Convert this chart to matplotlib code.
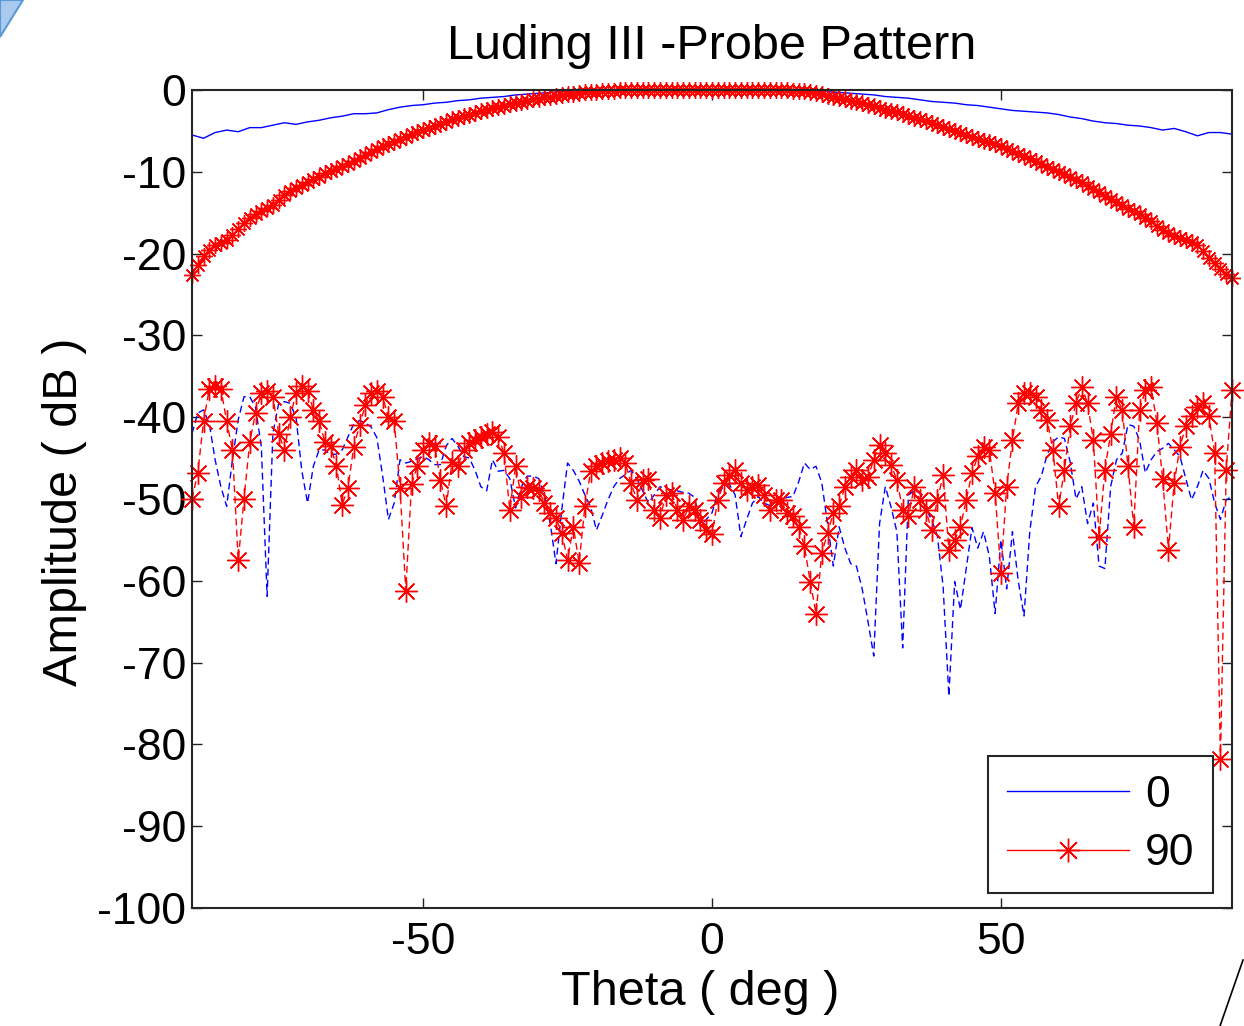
import numpy as np
import matplotlib
matplotlib.use('Agg')
import matplotlib.pyplot as plt
from matplotlib.lines import Line2D
from matplotlib.patches import Polygon

plt.rcParams['font.family'] = ['Liberation Sans', 'DejaVu Sans']
plt.rcParams['axes.unicode_minus'] = False

# angles (deg)
theta_fine = np.arange(-90, 91, 1)
theta_coarse = np.arange(-90, 91, 2)

# co-polar, phi = 0 cut (2 deg step)
copol_0 = [
    -5.5, -5.9, -5.2, -4.9, -5.1, -4.6, -4.6, -4.3, -4.0, -4.2,
    -3.9, -3.7, -3.4, -3.2, -2.9, -2.9, -2.8, -2.4, -2.1, -1.9,
    -1.8, -1.6, -1.5, -1.3, -1.2, -1.0, -0.9, -0.8, -0.6, -0.5,
    -0.4, -0.3, -0.2, -0.1, 0.0, 0.0, 0.0, 0.0, 0.0, 0.0,
    0.0, 0.0, 0.0, 0.0, 0.0, 0.0, 0.0, 0.0, 0.0, 0.0,
    0.0, 0.0, 0.0, 0.0, -0.1, -0.2, -0.3, -0.4, -0.5, -0.6,
    -0.8, -0.9, -1.0, -1.2, -1.4, -1.5, -1.6, -1.8, -1.9, -2.1,
    -2.3, -2.5, -2.6, -2.7, -2.8, -3.0, -3.3, -3.5, -3.8, -4.0,
    -4.1, -4.3, -4.4, -4.6, -4.9, -4.7, -5.1, -5.6, -5.2, -5.2,
    -5.4]

# co-polar, phi = 90 cut (1 deg step)
copol_90 = [
    -22.6, -21.4, -20.3, -19.6, -19.0, -18.7, -18.3, -17.7, -17.0, -16.2, -15.6,
    -15.2, -14.8, -14.4, -14.0, -13.4, -12.8, -12.4, -12.0, -11.6, -11.3,
    -10.9, -10.6, -10.2, -9.9, -9.6, -9.3, -9.0, -8.7, -8.3, -7.9,
    -7.6, -7.2, -6.9, -6.6, -6.3, -6.0, -5.7, -5.4, -5.1, -4.9,
    -4.6, -4.4, -4.1, -3.9, -3.6, -3.4, -3.2, -3.0, -2.8, -2.6,
    -2.4, -2.2, -2.05, -1.9, -1.75, -1.6, -1.45, -1.3, -1.15, -1.05,
    -0.9, -0.8, -0.7, -0.6, -0.5, -0.45, -0.4, -0.3, -0.25, -0.2,
    -0.15, -0.1, -0.08, -0.05, -0.03, -0.02, -0.01, 0.0, 0.0, 0.0,
    0.0, 0.0, 0.0, 0.0, 0.0, 0.0, 0.0, 0.0, 0.0, 0.0,
    0.0, 0.0, 0.0, 0.0, 0.0, 0.0, 0.0, 0.0, 0.0, 0.0,
    -0.02, -0.03, -0.05, -0.07, -0.1, -0.15, -0.25, -0.4, -0.55, -0.7,
    -0.85, -1.0, -1.15, -1.3, -1.45, -1.6, -1.8, -2.0, -2.2, -2.4,
    -2.55, -2.7, -2.95, -3.2, -3.4, -3.6, -3.8, -4.0, -4.25, -4.5,
    -4.75, -5.0, -5.25, -5.5, -5.75, -6.0, -6.2, -6.4, -6.65, -6.9,
    -7.2, -7.5, -7.8, -8.1, -8.4, -8.7, -9.05, -9.4, -9.7, -10.0,
    -10.3, -10.6, -10.95, -11.3, -11.7, -12.1, -12.5, -12.9, -13.3, -13.7,
    -14.1, -14.5, -14.85, -15.2, -15.6, -16.0, -16.6, -17.1, -17.5, -17.9,
    -18.1, -18.3, -18.6, -18.9, -19.7, -20.5, -21.2, -21.9, -22.5, -23.0]

# cross-polar, phi = 0 cut (1 deg step)
xpol_0 = [
    -42.0, -39.5, -39.1, -40.8, -45.2, -48.5, -50.9, -45.2, -40.3, -37.5,
    -37.5, -38.8, -43.6, -61.9, -42.0, -38.3, -38.1, -38.3, -40.0, -46.5,
    -50.5, -46.0, -44.0, -44.0, -44.6, -44.5, -44.0, -42.4, -40.8, -40.4,
    -40.7, -41.2, -42.5, -47.2, -52.5, -50.5, -45.2, -45.6, -45.4, -45.1,
    -44.8, -45.2, -45.8, -45.8, -43.5, -42.6, -43.5, -44.8, -45.0, -46.5,
    -48.5, -49.0, -45.2, -46.6, -46.5, -47.5, -51.1, -48.5, -47.2, -47.2,
    -47.5, -49.5, -53.0, -57.9, -51.3, -45.6, -46.5, -47.8, -49.5, -51.0,
    -53.8, -52.0, -50.1, -48.5, -47.5, -47.0, -46.5, -47.5, -49.0, -50.5,
    -49.5, -48.5, -48.7, -48.9, -49.0, -49.2, -49.3, -49.8, -53.4, -52.5,
    -51.7, -49.3, -48.5, -48.2, -49.5, -54.6, -52.5, -50.5, -49.7, -50.5,
    -50.8, -50.4, -50.0, -49.8, -49.7, -47.9, -45.6, -46.4, -46.0, -48.0,
    -53.0, -58.2, -53.4, -56.0, -57.9, -58.2, -61.0, -65.0, -69.2, -53.0,
    -48.5, -51.0, -54.0, -68.2, -49.5, -49.0, -49.3, -51.2, -52.5, -54.5,
    -60.7, -74.1, -60.1, -63.5, -58.5, -53.5, -56.0, -54.0, -57.0, -64.0,
    -55.0, -61.0, -54.0, -60.0, -64.3, -54.0, -48.5, -47.2, -44.6, -43.0,
    -42.4, -42.6, -45.5, -50.0, -48.5, -53.0, -50.5, -58.2, -58.5, -48.5,
    -45.2, -44.4, -40.9, -41.1, -42.8, -46.8, -45.2, -44.2, -43.8, -43.2,
    -44.0, -44.8, -47.5, -50.1, -48.5, -46.5, -47.5, -50.5, -52.5, -50.1,
    -49.7]

# cross-polar, phi = 90 cut (1 deg step)
xpol_90 = [
    -50.0, -46.8, -40.5, -36.5, -36.2, -36.5, -40.5, -44.0, -57.5, -50.0,
    -43.0, -39.5, -37.0, -36.8, -37.5, -42.0, -44.0, -40.0, -37.0, -36.2,
    -36.8, -39.1, -40.5, -43.0, -43.5, -46.0, -50.7, -48.6, -43.6, -41.0,
    -38.5, -37.0, -36.8, -37.5, -40.0, -40.5, -48.6, -61.2, -48.2, -46.0,
    -44.0, -43.2, -43.5, -47.7, -50.9, -45.5, -46.0, -44.0, -43.2, -42.8,
    -42.4, -42.0, -41.8, -42.4, -44.4, -51.3, -46.0, -49.7, -48.5, -48.7,
    -48.9, -50.5, -51.7, -52.3, -54.2, -57.4, -53.4, -57.8, -50.9, -46.6,
    -46.0, -45.6, -45.4, -45.2, -45.0, -45.6, -48.1, -50.1, -47.7, -47.5,
    -51.3, -52.3, -49.5, -49.3, -51.3, -52.6, -50.9, -51.3, -52.6, -53.8,
    -54.3, -50.1, -48.1, -47.1, -46.4, -48.1, -48.9, -48.5, -48.3, -49.5,
    -51.3, -50.1, -50.1, -51.7, -52.1, -53.4, -55.8, -60.1, -64.0, -56.6,
    -54.2, -51.7, -50.9, -48.5, -47.3, -46.4, -47.7, -47.3, -45.2, -43.4,
    -44.4, -45.8, -47.7, -51.3, -52.1, -48.5, -50.1, -51.3, -53.8, -50.1,
    -47.1, -56.2, -55.0, -53.4, -50.1, -46.8, -44.8, -43.6, -44.0, -49.3,
    -59.0, -48.5, -42.8, -38.3, -37.1, -37.1, -37.5, -39.1, -40.3, -44.0,
    -50.9, -46.4, -41.1, -38.3, -36.3, -38.3, -42.8, -54.6, -46.4, -42.0,
    -37.5, -39.1, -46.0, -53.4, -39.1, -36.7, -36.3, -40.7, -47.6, -56.2,
    -48.0, -43.6, -41.1, -39.9, -38.7, -38.3, -39.9, -44.4, -81.8, -46.4,
    -36.7]

legend_labels = ['0', '90']
star = (8, 2, 0)

fig = plt.figure(figsize=(12.44, 10.26), dpi=100)
ax = fig.add_axes([192/1244, 1-908/1026, 1040/1244, 818/1026])

l0, = ax.plot(theta_coarse, copol_0, color='b', lw=1.0, clip_on=False)
l90, = ax.plot(theta_fine, copol_90, color='r', lw=1.0, marker=star,
               markersize=12, markeredgewidth=1.0, clip_on=False)
ax.plot(theta_fine, xpol_0, color='b', lw=1.0, dashes=(5, 3), clip_on=False)
ax.plot(theta_fine, xpol_90, color='r', lw=1.0, dashes=(5, 3), marker=star,
        markersize=16, markeredgewidth=1.0, clip_on=False)

ax.set_xlim(-90, 90)
ax.set_ylim(-100, 0)
ax.set_xticks([-50, 0, 50])
ax.set_yticks(np.arange(-100, 1, 10))
ax.tick_params(direction='in', length=7, width=1, labelsize=32,
               top=True, right=True, colors='#222222', labelcolor='black')
ax.tick_params(axis='x', pad=10)
ax.tick_params(axis='y', pad=4)
for s in ax.spines.values():
    s.set_linewidth(1.5)
    s.set_color('#262626')

ax.set_title('Luding III -Probe Pattern', fontsize=35, pad=22)
ax.set_xlabel('Theta ( deg )', fontsize=35)
ax.set_ylabel('Amplitude ( dB )', fontsize=35)
ax.xaxis.set_label_coords(0.489, -0.0755)
ax.yaxis.set_label_coords(-0.101, 0.484)

leg = ax.legend([l0, l90], legend_labels, loc='lower right', fontsize=32,
                bbox_to_anchor=(1213/1244, 1-893/1026), bbox_transform=fig.transFigure,
                borderaxespad=0, fancybox=False, framealpha=1, edgecolor='#262626',
                handlelength=2.75, handletextpad=0.35, borderpad=0.42,
                labelspacing=0.4, numpoints=1)
leg.get_frame().set_linewidth(1.5)
leg.legend_handles[1].set_markersize(17)

# slide decorations in the corners
fig.add_artist(Polygon([[0, 1], [23/1244, 1], [0, 1-37/1026]], closed=True,
                       transform=fig.transFigure, facecolor='#a9c9ee',
                       edgecolor='#5b9bd5', lw=1.5))
fig.add_artist(Line2D([1243/1244, 1220/1244], [1-960/1026, 0], color='black',
                      lw=1.2, transform=fig.transFigure))

fig.savefig('out.png', dpi=100)
